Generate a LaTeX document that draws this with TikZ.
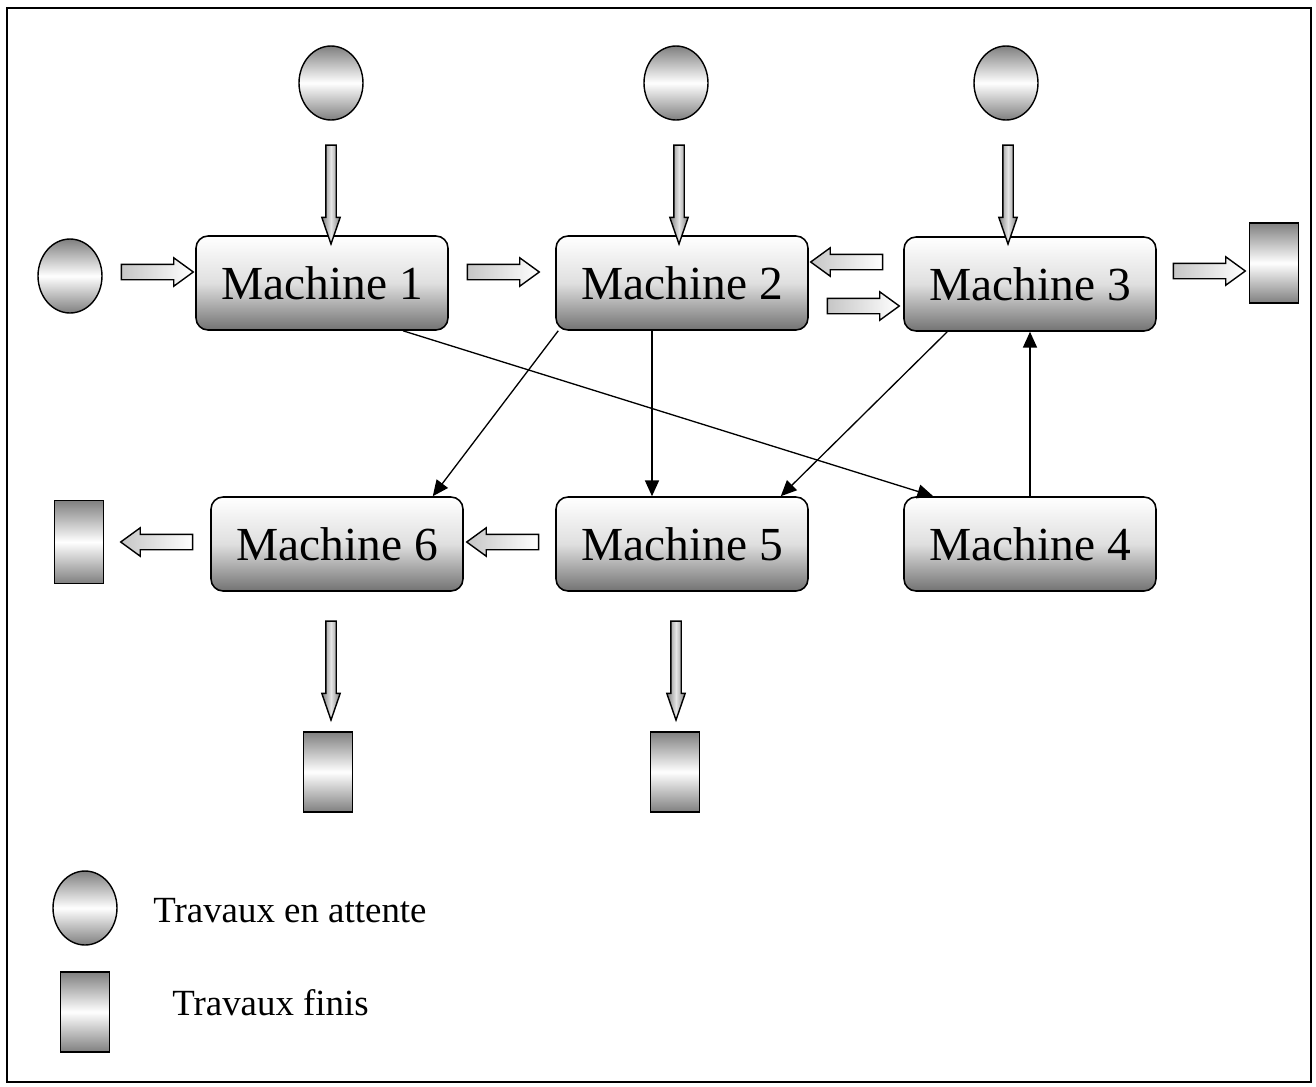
\documentclass[tikz,border=0pt]{standalone}
\usepackage{fontspec}
\setmainfont{Liberation Serif}
\usetikzlibrary{shapes.geometric,shapes.arrows,arrows.meta,calc}

\begin{document}
\begin{tikzpicture}[x=0.02cm,y=-0.02cm,
	machine/.style={draw,line width=0.9pt,rounded corners=0.24cm,minimum width=5.04cm,minimum height=1.88cm,top color=white,bottom color=black!55,middle color=gray!25,font=\fontsize{27}{32}\selectfont},
	wait/.style={ellipse,draw,line width=0.8pt,minimum width=1.28cm,minimum height=1.48cm,inner sep=0pt,top color=black!50,bottom color=black!50,middle color=white},
	done/.style={rectangle,draw,line width=0.8pt,minimum width=0.98cm,minimum height=1.6cm,inner sep=0pt,top color=black!50,bottom color=black!50,middle color=white},
	varrow/.style={single arrow,draw,line width=0.8pt,inner xsep=0pt,inner ysep=0.09cm,single arrow head extend=0.08cm,single arrow tip angle=38,minimum height=1.98cm,rotate=-90,left color=black!50,right color=black!50,middle color=gray!20},
	harrow/.style={single arrow,draw,line width=0.8pt,inner xsep=0pt,inner ysep=0.14cm,single arrow head extend=0.13cm,single arrow tip angle=72,minimum height=1.44cm,left color=gray!45,right color=white},
	link/.style={-{Triangle[length=9pt,width=8pt]},line width=0.75pt},
	legend/.style={anchor=base west,inner sep=0pt,font=\fontsize{21}{25}\selectfont}]
	\useasboundingbox (0,0) rectangle (1316,1086);
	\draw[line width=1pt] (7,8) rectangle (1311,1082);

	% machines
	\node[machine] (m1) at (322,283) {Machine 1};
	\node[machine] (m2) at (682,283) {Machine 2};
	\node[machine] (m3) at (1030,284) {Machine 3};
	\node[machine] (m6) at (337,544) {Machine 6};
	\node[machine] (m5) at (682,544) {Machine 5};
	\node[machine] (m4) at (1030,544) {Machine 4};

	% travaux en attente / finis
	\node[wait] (w0) at (70,276) {};
	\node[wait] (w1) at (331,83) {};
	\node[wait] (w2) at (676,83) {};
	\node[wait] (w3) at (1006,83) {};
	\node[done] (f3) at (1274,263) {};
	\node[done,minimum height=1.66cm] (f6) at (79,542) {};
	\node[done] (f6b) at (328,772) {};
	\node[done] (f5) at (675,772) {};

	% block arrows
	\node[varrow] (a1) at (331,187) {};
	\node[varrow] (a2) at (679,187) {};
	\node[varrow] (a3) at (1008,187) {};
	\node[varrow] (a4) at (331,663) {};
	\node[varrow] (a5) at (676,663) {};
	\node[harrow] (h1) at (152,272) {};
	\node[harrow] (h2) at (498,272) {};
	\node[harrow,rotate=180] (h3) at (852,262) {};
	\node[harrow] (h4) at (858,306) {};
	\node[harrow] (h5) at (1204,271) {};
	\node[harrow,rotate=180] (h6) at (508,542) {};
	\node[harrow,rotate=180] (h7) at (162,542) {};

	% transfers
	\draw[link] ($(m1.south)+(81,0)$) -- ($(m4.north west)+(30,0)$);
	\draw[link] ($(m2.south west)+(3,0)$) -- ($(m6.north east)+(-31,0)$);
	\draw[link] ($(m2.south)+(-30,0)$) -- ($(m5.north)+(-30,0)$);
	\draw[link] ($(m3.south west)+(44,0)$) -- ($(m5.north east)+(-28,0)$);
	\draw[link] (m4.north) -- (m3.south);

	% legend
	\node[wait] (lw) at (85,908) {};
	\node[done] (lf) at (85,1012) {};
	\node[legend] (tw) at (153,922) {Travaux en attente};
	\node[legend] (tf) at (172,1015) {Travaux finis};
\end{tikzpicture}
\end{document}
